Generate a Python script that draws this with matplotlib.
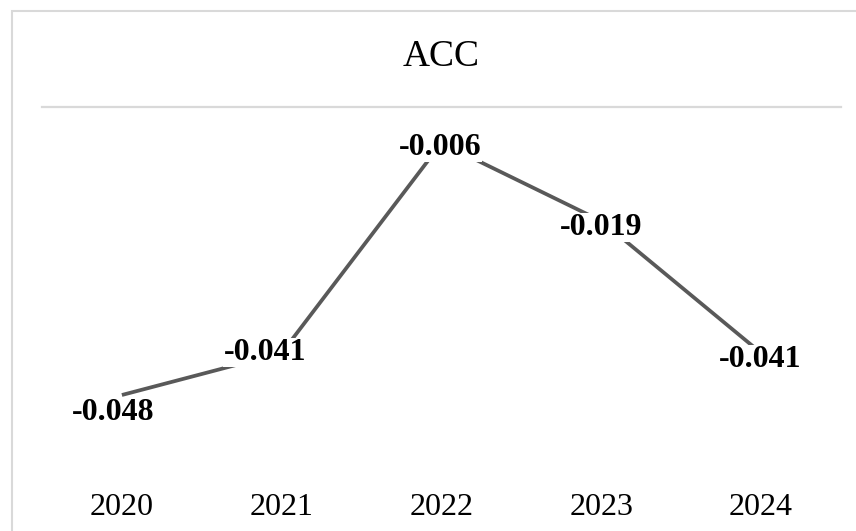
import matplotlib
matplotlib.use('Agg')
import matplotlib.pyplot as plt
from matplotlib.patches import Rectangle

# data
years = ['2020', '2021', '2022', '2023', '2024']
acc = [-0.048, -0.041, -0.006, -0.019, -0.041]
labels = ['-0.048', '-0.041', '-0.006', '-0.019', '-0.041']

# label nudges in pixels (dx, dy) relative to each point, baseline aligned
label_offsets = [(-9, -25), (-17, -7), (-1, -12), (0, -14), (-1, -14)]

plt.rcParams['font.family'] = ['Liberation Serif', 'DejaVu Serif']

fig = plt.figure(figsize=(8.56, 5.31), dpi=100)
ax = fig.add_axes([42 / 856, 1 - 467 / 531, 799 / 856, 360 / 531])

x = list(range(len(years)))
ax.plot(x, acc, color='#595959', lw=2.7, solid_capstyle='butt', zorder=2)

for xi, yi, txt, (dx, dy) in zip(x, acc, labels, label_offsets):
    ax.annotate(txt, (xi, yi), xytext=(dx, dy), textcoords='offset pixels',
                ha='center', va='baseline', fontsize=23, fontweight='bold',
                color='black', zorder=3,
                bbox=dict(boxstyle='square,pad=0', fc='white', ec='none'))

ax.set_xlim(-0.5, len(years) - 0.5)
ax.set_ylim(-0.06, 0)
ax.axhline(0, color='#d9d9d9', lw=1.6, clip_on=False, zorder=1)

ax.set_xticks(x)
ax.set_xticklabels(years, fontsize=23)
ax.tick_params(axis='x', length=0, pad=19)
ax.set_yticks([])
for s in ax.spines.values():
    s.set_visible(False)

fig.text(441 / 856, 1 - 66 / 531, 'ACC', ha='center', va='baseline', fontsize=27)

# outer chart frame
fig.patches.append(Rectangle((12 / 856, -0.1), 1.2, 1.1 - 11 / 531,
                             transform=fig.transFigure, fill=False,
                             ec='#d9d9d9', lw=1.5))

fig.savefig('out.png', dpi=100)
